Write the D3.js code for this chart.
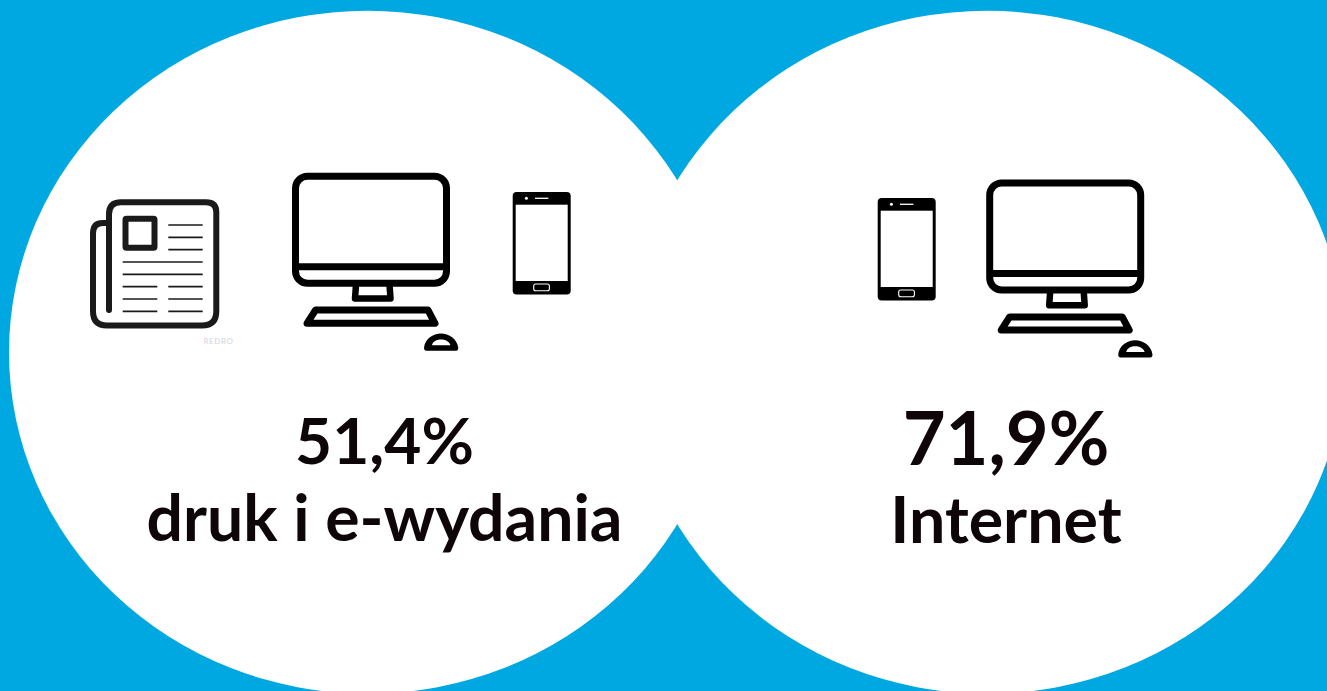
<!DOCTYPE html>
<html><head><meta charset="utf-8">
<script src="https://cdn.jsdelivr.net/npm/d3@7"></script>
<style>html,body{margin:0;padding:0;background:#00a8e1;overflow:hidden}svg{display:block}text{font-family:Lato,sans-serif;font-weight:700;fill:#0e0508}</style>
</head><body><svg id="c" width="1327" height="691"></svg>
<script>
const categories = ["druk i e-wydania", "Internet"];
const values = [51.4, 71.9];
const fmt = d3.format(".1f");

const w = 1327, h = 691;
const svg = d3.select("#c");
const x = d3.scalePoint().domain(categories).range([367.5, 987]);

svg.append("rect").attr("width", w).attr("height", h).attr("fill", "#00a8e1");
svg.selectAll("ellipse.bub").data(categories).join("ellipse").attr("class","bub")
  .attr("cx", d => x(d)).attr("cy", 352.3).attr("rx", 358.5).attr("ry", 341.5).attr("fill", "#fff");

function monitor(g) {
  const s = {fill:"none", stroke:"#000", "stroke-width":7, "stroke-linejoin":"round"};
  const add = (tag, attrs) => { const e = g.append(tag); Object.entries({...s, ...attrs}).forEach(([k,v]) => e.attr(k,v)); return e; };
  add("rect", {x:3.5, y:3.5, width:151, height:107, rx:12});
  add("path", {d:"M3,94 H155"});
  add("path", {d:"M64,112 L63,125.7 H98.5 L97.5,112", "stroke-width":6.5});
  add("path", {d:"M23.5,137.4 H136 L143,150.6 H15 Z"});
  g.append("path").attr("fill","#000").attr("fill-rule","evenodd")
   .attr("d","M134.5,178 Q132,178 132,175 C133,166 141,160.7 149,160.7 C157,160.7 165,166 166.3,175 Q166.3,178 164,178 Z M140,172.5 H158.5 C157,168.5 153,166.8 149,166.8 C145,166.8 141,168.5 140,172.5 Z");
}
function phone(g) {
  g.append("rect").attr("width",58).attr("height",102.5).attr("rx",4).attr("fill","#000");
  g.append("rect").attr("x",3).attr("y",12.7).attr("width",52).attr("height",76.3).attr("fill","#fff");
  g.append("path").attr("d","M22.3,6.3 H35.7").attr("stroke","#fff").attr("stroke-width",1.3);
  g.append("circle").attr("cx",13.7).attr("cy",6.3).attr("r",1.5).attr("fill","#fff");
  g.append("rect").attr("x",21).attr("y",92).attr("width",15.7).attr("height",6.7).attr("rx",2).attr("fill","none").attr("stroke","#fff").attr("stroke-width",1.1);
}
function newspaper(g) {
  const c = "#1a1a1a";
  g.append("path").attr("fill","none").attr("stroke",c).attr("stroke-width",6).attr("stroke-linecap","round")
   .attr("d","M19,110.7 V15 Q19,3 31,3 H116 Q126.3,3 126.3,13 V112 Q126.3,126.3 112,126.3 H17 Q3,126.3 3,112 V34 Q3,23.7 13,23.7 H19");
  g.append("rect").attr("x",35.5).attr("y",19.5).attr("width",29).attr("height",29).attr("rx",1)
   .attr("fill","none").attr("stroke",c).attr("stroke-width",6);
  const rows = [[78.3,112.7,25.7],[78.3,112.7,38],[78.3,112.7,50.3],[32.7,112.7,62.7],[32.7,112.7,75],
                [32.7,67.3,87.3],[78.3,112.7,87.3],[32.7,67.3,99.7],[78.3,112.7,99.7],[32.7,67.3,112],[78.3,112.7,112]];
  g.selectAll("line").data(rows).join("line").attr("x1",d=>d[0]).attr("x2",d=>d[1]).attr("y1",d=>d[2]).attr("y2",d=>d[2])
   .attr("stroke",c).attr("stroke-width",1.7);
}
const icon = (fn, tx, ty) => fn(svg.append("g").attr("transform",`translate(${tx},${ty})`));
icon(newspaper, 90, 199.3);
icon(monitor, 292, 172.7);
icon(phone, 512.7, 192);
icon(phone, 877.7, 198);
icon(monitor, 986.2, 179.5);

svg.append("text").text("REDRO").attr("x",218.5).attr("y",344).attr("text-anchor","middle")
  .style("font-size","8px").style("font-weight","400").style("fill","#d4d4d4").style("letter-spacing","0.6px");

const valueSize = [64, 74], labelSize = [64.3, 64.5], cx = [384.5, 1006], vy = [464, 465], ly = [541, 543];
categories.forEach((c,i) => {
  svg.append("text").text(fmt(values[i]).replace(".",",")+"%").attr("x",cx[i]).attr("y",vy[i]).attr("text-anchor","middle").style("font-size",valueSize[i]+"px");
  svg.append("text").text(c).attr("x",cx[i]).attr("y",ly[i]).attr("text-anchor","middle").style("font-size",labelSize[i]+"px");
});
</script></body></html>
